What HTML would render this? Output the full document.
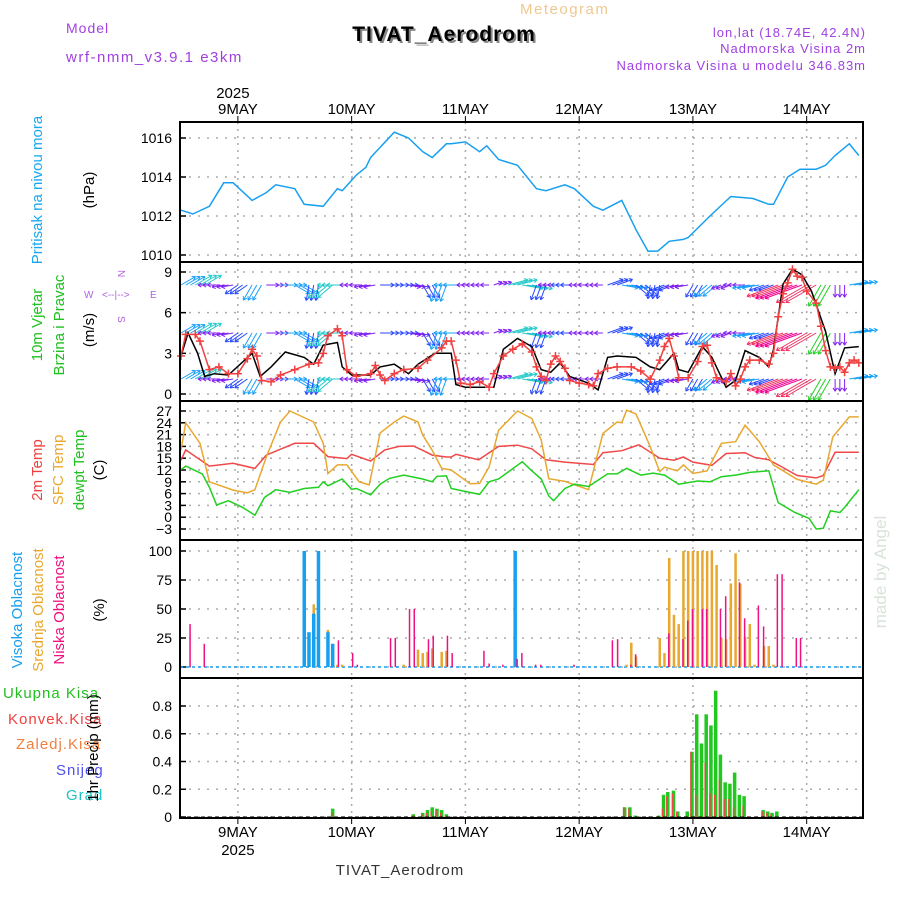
<!DOCTYPE html>
<html><head><meta charset="utf-8"><style>
body{margin:0;background:#fff}
svg text{font-family:"Liberation Sans",sans-serif}
</style></head><body>
<svg id="c" width="900" height="900" viewBox="0 0 900 900" xmlns="http://www.w3.org/2000/svg">
<g>
<text x="66" y="33" font-size="14" fill="#a040e0" letter-spacing="1">Model</text>
<text x="66" y="62" font-size="15" fill="#a040e0" letter-spacing="1.5">wrf-nmm_v3.9.1 e3km</text>
<text x="520" y="14" font-size="15" fill="#f0c890" letter-spacing="1.5">Meteogram</text>
<text x="446" y="43" font-size="21" font-weight="bold" fill="#888" text-anchor="middle" letter-spacing="1">TIVAT_Aerodrom</text>
<text x="444" y="41" font-size="21" font-weight="bold" fill="#000" text-anchor="middle" letter-spacing="1">TIVAT_Aerodrom</text>
<text x="866" y="37" font-size="13" fill="#a040e0" text-anchor="end" letter-spacing="1">lon,lat (18.74E, 42.4N)</text>
<text x="866" y="53" font-size="13" fill="#a040e0" text-anchor="end" letter-spacing="1">Nadmorska Visina 2m</text>
<text x="866" y="70" font-size="13" fill="#a040e0" text-anchor="end" letter-spacing="1">Nadmorska Visina u modelu 346.83m</text>
</g>
<g font-size="15">
<text transform="translate(42,190) rotate(-90)" text-anchor="middle" fill="#18a8f0">Pritisak na nivou mora</text>
<text transform="translate(94,190) rotate(-90)" text-anchor="middle" fill="#000">(hPa)</text>
<text transform="translate(42,325) rotate(-90)" text-anchor="middle" fill="#20c020">10m Vjetar</text>
<text transform="translate(64,325) rotate(-90)" text-anchor="middle" fill="#20c020">Brzina i Pravac</text>
<text transform="translate(94,330) rotate(-90)" text-anchor="middle" fill="#000">(m/s)</text>
<g fill="#b060e0" font-size="10">
<text transform="translate(118,270) rotate(90)">N</text>
<text x="84" y="298">W</text><text x="150" y="298">E</text>
<text x="102" y="298">&lt;--|--&gt;</text>
<text transform="translate(118,316) rotate(90)">S</text>
</g>
<text transform="translate(42,470) rotate(-90)" text-anchor="middle" fill="#f04040">2m Temp</text>
<text transform="translate(63,470) rotate(-90)" text-anchor="middle" fill="#e8a830">SFC Temp</text>
<text transform="translate(84,470) rotate(-90)" text-anchor="middle" fill="#20c020">dewpt Temp</text>
<text transform="translate(104,470) rotate(-90)" text-anchor="middle" fill="#000">(C)</text>
<text transform="translate(22,610) rotate(-90)" text-anchor="middle" fill="#18a0f0">Visoka Oblacnost</text>
<text transform="translate(43,610) rotate(-90)" text-anchor="middle" fill="#e8a830">Srednja Oblacnost</text>
<text transform="translate(64,610) rotate(-90)" text-anchor="middle" fill="#f01080">Niska Oblacnost</text>
<text transform="translate(104,610) rotate(-90)" text-anchor="middle" fill="#000">(%)</text>
<text x="3" y="698" fill="#20c020" letter-spacing="1">Ukupna Kisa</text>
<text x="8" y="724" fill="#f04040" letter-spacing="1">Konvek.Kisa</text>
<text x="16" y="749" fill="#f08040" letter-spacing="1">Zaledj.Kisa</text>
<text x="56" y="775" fill="#5050f0" letter-spacing="1">Snijeg</text>
<text x="66" y="800" fill="#20c0c0" letter-spacing="1">Grad</text>
<text transform="translate(98,748) rotate(-90)" text-anchor="middle" fill="#000">1hr Precip (mm)</text>
<text transform="translate(886,572) rotate(-90)" text-anchor="middle" fill="#d8e4d8" font-family="Liberation Serif" font-size="17">made by Angel</text>
<text x="400" y="875" text-anchor="middle" font-family="Liberation Serif" font-size="15" fill="#333" letter-spacing="1">TIVAT_Aerodrom</text>
</g>
</svg>
<script>
// time axis: hours since 8 May 12:00
const dayLabels=["9MAY","10MAY","11MAY","12MAY","13MAY","14MAY"];
const dayHours=[12,36,60,84,108,132];
const pTimes=[0,2.5,6,9,11,15,18,20,24,26,30,33,34,37,39,40,45,48,51,53,56,57,60,63,64.5,67,71,75,77,81,83,87,89,93,96,98.5,100.6,103,106,107,111.6,116,120.7,124,125,128,130.6,134,136,138,141,143];
const pVals=[1012.3,1012.1,1012.5,1013.7,1013.7,1012.8,1013.2,1013.6,1013.4,1012.6,1012.5,1013.4,1013.3,1014.1,1014.5,1015.0,1016.3,1016.0,1015.3,1015.0,1015.7,1015.7,1015.8,1015.3,1015.6,1014.9,1014.6,1013.4,1013.3,1013.6,1013.4,1012.5,1012.3,1012.8,1011.3,1010.2,1010.2,1010.7,1010.8,1010.9,1012.0,1013.0,1012.9,1012.6,1012.6,1014.0,1014.4,1014.4,1014.6,1015.1,1015.7,1015.1];
const t2Times=[0,1,6,11,15.6,18,24,28,31,35,36,40,43,46,49,51,53,56,57,58,62.8,67,71,74,77,81,87,89,93,96.6,101,104,106,108,112,115,119,121,124,126.6,130,134,135.5,138,143];
const t2Vals=[14.5,17.1,13,13.7,12.4,15.8,18.8,18.8,15.4,14.9,16,14.3,17.1,18,18.1,17,15.8,15.3,15.3,16,14.6,18,18.3,17.4,14.6,14,13.4,16.4,16.9,18.4,15,14.5,15.3,14,13.2,16.2,16.4,15.2,14.6,12.9,10.6,10,10.6,16.5,16.5];
const sfcTimes=[0,1,4,6,11,14,15.6,18,21,23,28,30,31,33,35,37.6,39.7,42,45,47,50,51,53,55,57,61,63,65,67,71,74,76,77.6,81,86,89,92,93,94,96,99,101,102,104.7,106,108,111,114,117,119,120.5,122,125,130,134,135.5,137.5,141,143];
const sfcVals=[17,24,18.8,9,6.9,6.2,7,15.3,24.2,27,24.2,18.8,11.1,13.3,13.3,9,8.2,21.4,24.2,25.7,24.2,20.9,17,12.4,12,8.5,8.6,12.8,22.1,27,25.1,19.6,9.8,9.1,7,21.3,24.2,24,27.2,26.2,17.9,11.6,12.7,11.8,13.3,11.1,11.8,18.8,19.2,23.4,21.3,19.2,13.3,9.6,8.4,9.4,20.4,25.5,25.5];
const dewTimes=[0,1,4.5,6,7.5,10,13,15.6,17.6,20,23,26,29,30,31,34,36,37,40,42,44,47,51,53,54,56,57,63,65,67,72,74,76,77.6,78.6,81,83,86,90,92,94,97,99.6,102,105,109,111.6,114,117,120,124,126,129.5,132.5,134,135.5,137,139,140,143];
const dewVals=[12.1,13,11,7.6,3.1,4.2,2.5,0.5,5,7,6.3,7.3,7.6,9,8,9.7,7.1,7.3,5.7,8.4,9.9,10.7,9.7,9,10.4,10.5,7.3,5.8,9,9.7,14.1,11.8,9.7,5.4,4.2,7.3,8.4,7.8,11,11,12.4,10.7,11.2,10.7,8.4,9.2,9,10.3,10.7,11.4,11.8,3.7,1.2,-0.3,-3,-2.8,1.6,1.2,2.5,7];
const wsTimes=[0,1.5,3.5,5,7,10,15,16.7,19,22,26,28,30,33,34,36,40,42,45,48,50,53.6,57,58,60,66,68,71,74,76,78,80,82,86,88,90,92,96,99,101,104,105,107,110,112,115,117,119,122,124,125,127,129,131,133,136,138,140,143];
const wsVals=[2.8,4.5,3,1.3,1.5,1.4,3,1.3,2,3.1,2.7,2.2,3.6,3.8,2,1.4,1.4,2,2.2,1.5,2.2,3,3,0.7,0.5,0.5,3.3,4.1,3.5,1.8,1.6,2.3,1.3,0.8,0.3,2.7,2.8,2.7,2,1.8,3,1.8,1.6,3.5,2.7,0.5,1,3.2,2.7,2,3.3,8.1,9.2,8.8,7.6,4.6,1.5,3.4,3.5];
const gTimes=[0,1,3,4,6,8,10,12,14,15,16,17,19,21,24,27,29,30,31,33,34,35,37,40,41,42,43,45,47,50,52,55,56,57,58,59,61,63,65,66,68,70,72,74,75,76,77,78,79,80,81,82,84,86,87,88,90,92,95,97,99,101,102,103,104,105,107,109,110,111,112,113,115,116,117,118,119,120,122,124,125,126,127,128,129,130,131,132,134,135,136,137,138,139,140,141,142,143];
const gVals=[2.8,4.4,4.4,3.9,1.8,2,1.5,1.5,2.6,3.3,2.8,1,0.9,1.4,1.8,2.2,2.3,3,4.3,4.8,4.3,1.8,1.3,1.5,2.1,1.4,1,1.5,1.8,1.9,2.5,3.4,3.9,3.9,2.5,0.8,0.7,0.9,0.5,1.5,2.8,3.3,3.7,3.1,2,1.3,1,2.2,2.8,2.4,1.9,1,0.8,0.7,0.6,1.5,1.9,2,2,1.7,1.1,2.5,3.5,4.1,2.8,1.2,1.2,2.4,3.5,3.6,2.3,1.2,0.9,1.5,0.6,1.1,2,2.5,2.5,2.2,3,5.7,7.4,8.2,9.2,8.7,8.6,7.6,6.7,5,3.2,2,1.9,2,1.6,2.3,2.5,2.3];
// wind arrows every 3 h
const barbDir=[30,30,180,190,215,240,0,0,330,260,220,180,180,190,0,0,350,300,250,180,180,180,20,15,350,250,180,180,180,180,20,350,320,260,200,190,240,220,200,180,190,200,200,200,210,240,270,10,10];
const barbSpd=[2.8,3.5,1.3,1.4,2.4,3,1.6,2.8,2.9,2.5,3.6,3.8,1.4,1.4,2,2.2,1.5,2.2,3,3,0.5,0.5,0.5,3.8,4,2.5,1.6,2,1,0.4,2.7,2.8,2.7,2,2.5,1.8,2,3,1,1.5,3,2.5,7.5,9.2,8,5,1.5,3.4,3.5];
const hiH=[26,27,28,29,31,32,70.5];
const hiV=[100,30,46,100,30,20,100];
const midH=[26,28,31,32,33,34,47,50,51,52,53,55,56,94,95,96,101,102,103,104,105,106,107,108,109,110,111,112,113,114,115,116,117,118,119,120,121,123,124,125];
const midV=[4,54,32,20,2,2,2,15,12,13,16,13,14,2,21,9,25,12,94,45,37,100,100,100,100,100,100,100,88,25,24,72,98,72,26,37,2,18,18,2];
const lowH=[1.7,4.7,33,36,37,44,45,48,49,52,53,56,57,63.7,64.8,67.7,70.7,71.7,74.6,75.7,82.7,90.8,91.9,94.7,95.7,102.7,105.7,106.7,107.7,109.8,110.7,113.6,114.7,117.6,118.7,121.6,122.7,125.6,126.6,129.6,130.5];
const lowV=[37,20,23,12,2,25,25,50,50,24,27,27,12,14,3,2,7,12,2,2,2,23,24,2,11,29,24,40,50,50,50,50,61,73,42,53,35,80,80,25,25];
const prH=[32,49,51,52,53,54,55,56,93.6,94.7,95.8,100.8,101.8,102.7,103.9,104.8,106.8,107.8,108.8,109.8,110.8,111.8,112.8,113.8,114.8,115.8,116.8,117.8,118.8,122.8,123.8,124.7,125.7];
const prTot=[0.06,0.02,0.03,0.05,0.07,0.06,0.05,0.02,0.07,0.07,0.01,0.01,0.16,0.18,0.19,0.04,0.04,0.47,0.74,0.53,0.74,0.66,0.91,0.45,0.25,0.24,0.32,0.16,0.15,0.05,0.04,0.03,0.04];
const prConv=[0.03,0.01,0.02,0.03,0.04,0.05,0.03,0.01,0.07,0.06,0.0,0.0,0.06,0.15,0.17,0.04,0.0,0.47,0.16,0.0,0.39,0.17,0.16,0.27,0.13,0.13,0.07,0.0,0.08,0.04,0.03,0.02,0.0];
const pTicks=[1010,1012,1014,1016], wTicks=[0,3,6,9], tTicks=[-3,0,3,6,9,12,15,18,21,24,27], cTicks=[0,25,50,75,100], rTicks=[0,0.2,0.4,0.6,0.8];

const NS="http://www.w3.org/2000/svg", svg=document.getElementById('c');
const X0=181, XS=4.74, L=180, R=863;
const xh=h=>X0+h*XS;
function lin(v0,v1,y0,y1){return v=>y0+(v-v0)*(y1-y0)/(v1-v0);}
const yP=lin(1010,1016,255,138), yW=lin(0,9,394,272), yT=lin(-3,27,529,411), yC=lin(0,100,667,551), yR=lin(0,0.8,817,706);
function el(tag,at,parent){const e=document.createElementNS(NS,tag);for(const k in at)e.setAttribute(k,at[k]);(parent||svg).appendChild(e);return e;}
const panels=[[122,262,"pressure-panel",pTicks,yP,v=>v],[262,401,"wind-panel",wTicks,yW,v=>v],[401,540,"temp-panel",tTicks,yT,v=>v<0?"\u22123":v],[540,678,"cloud-panel",cTicks,yC,v=>v],[678,818,"precip-panel",rTicks,yR,v=>v===0?"0":v.toFixed(1)]];
panels.forEach(p=>{
  const g=el('g',{});
  
  
  dayHours.forEach(h=>{const l=el('line',{x1:xh(h),x2:xh(h),y1:p[0],y2:p[1],stroke:'#aaa','stroke-width':1.5,'stroke-dasharray':'2,5'},g);
    });
  p[3].forEach(v=>{const y=p[4](v);
    const l=el('line',{x1:L,x2:R,y1:y,y2:y,stroke:'#aaa','stroke-width':1.5,'stroke-dasharray':'2,7'},g);
    
    el('line',{x1:L,x2:L+6,y1:y,y2:y,stroke:'#000','stroke-width':1.5},g);
    const t=el('text',{x:L-8,y:y+5,'text-anchor':'end','font-size':14,fill:'#000'},g);
    t.textContent=p[5](v);
    });
});
function line(ts,vs,yf,col,name,w){
  const d=ts.map((t,i)=>(i?'L':'M')+xh(t).toFixed(1)+','+yf(vs[i]).toFixed(1)).join('');
  const p=el('path',{d:d,fill:'none',stroke:col,'stroke-width':w||1.5});
  return p;}
line(pTimes,pVals,yP,'#18a0f0','pressure-line');
line(t2Times,t2Vals,yT,'#f04848','temp-2m-line');
line(sfcTimes,sfcVals,yT,'#e8a830','sfc-temp-line');
line(dewTimes,dewVals,yT,'#20d020','dewpoint-line');
// wind arrows
function spdCol(s){if(s<2)return '#8020f0';if(s<2.8)return '#2848ff';if(s<3.5)return '#18a0f8';if(s<4.5)return '#20c8c8';if(s<5.5)return '#20d020';if(s<6.5)return '#a0e020';if(s<7.5)return '#f0a020';if(s<8.5)return '#f03060';return '#f00090';}
const rows=[285,333,379];
rows.forEach(ry=>{barbDir.forEach((dg,i)=>{
  const s=barbSpd[i], len=7+s*3.5, a=dg*Math.PI/180, col=spdCol(s);
  for(let k=0;k<3;k++){
    const x=xh(i*3+k); if(x>R-2)continue;
    const x2=x+len*Math.cos(a), y2=ry-len*Math.sin(a);
    const g=el('g',{stroke:col,'stroke-width':1,fill:'none'});
    
    
    el('line',{x1:x,y1:ry,x2:x2,y2:y2},g);
    [a+2.6,a-2.6].forEach(q=>el('line',{x1:x2,y1:y2,x2:x2+4*Math.cos(q),y2:y2-4*Math.sin(q)},g));
  }
});});
line(wsTimes,wsVals,yW,'#000','wind-speed-line');
line(gTimes,gVals,yW,'#f04040','wind-gust-line');
gTimes.forEach((t,i)=>{const x=xh(t),y=yW(gVals[i]);
  const m=el('path',{d:`M${x-4},${y}h8M${x},${y-4}v8`,stroke:'#f04040','stroke-width':1.5});
  });
// clouds
el('line',{x1:L,x2:R,y1:yC(0),y2:yC(0),stroke:'#18a0f0','stroke-width':1.5,'stroke-dasharray':'3,3'});
function bars(hs,vs,yf,col,w,off,name){hs.forEach((h,i)=>{if(vs[i]<=0)return;const y=yf(vs[i]);
  const r=el('rect',{x:xh(h)+off-w/2,y:y,width:w,height:yf(0)-y,fill:col});
  });}
bars(midH,midV,yC,'#e8a830',2.5,0,'mid-cloud-bar');
bars(hiH,hiV,yC,'#18a0f0',3.5,0,'high-cloud-bar');
bars(lowH,lowV,yC,'#f01080',1.5,1,'low-cloud-bar');
// precip
bars(prH,prTot,yR,'#20c820',3.5,0,'total-precip-bar');
bars(prH,prConv,yR,'#f04848',1.5,-1,'conv-precip-bar');
el('line',{x1:L,x2:R,y1:yR(0),y2:yR(0),stroke:'#000','stroke-width':1,'stroke-dasharray':'4,3'});
// frames
panels.forEach(p=>{const r=el('rect',{x:L,y:p[0],width:R-L,height:p[1]-p[0],fill:'none',stroke:'#000','stroke-width':2});
  });
// day labels top & bottom
dayHours.forEach((h,i)=>{const x=xh(h);
  el('line',{x1:x,x2:x,y1:116,y2:122,stroke:'#000'});
  el('line',{x1:x,x2:x,y1:818,y2:824,stroke:'#000'});
  const t=el('text',{x:x,y:114,'text-anchor':'middle','font-size':15,fill:'#000'});t.textContent=dayLabels[i];
  
  const b=el('text',{x:x,y:837,'text-anchor':'middle','font-size':15,fill:'#000'});b.textContent=dayLabels[i];
  });
const y1=el('text',{x:xh(12)-5,y:98,'text-anchor':'middle','font-size':15,fill:'#000'});y1.textContent='2025';

const y2=el('text',{x:xh(12),y:855,'text-anchor':'middle','font-size':15,fill:'#000'});y2.textContent='2025';

</script>
</body></html>
